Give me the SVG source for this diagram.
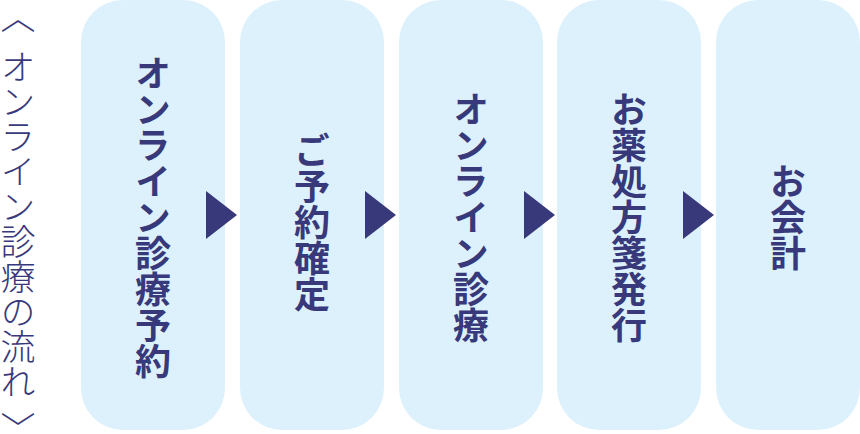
<svg xmlns="http://www.w3.org/2000/svg" width="860" height="434" viewBox="0 0 860 434">
<style>
.box{fill:#dcf1fc}
.lbl{font-family:"Noto Sans CJK JP","Noto Sans",sans-serif;font-weight:700;font-size:36px;fill:#38397a;writing-mode:vertical-rl;text-anchor:middle}
.ttl{font-family:"Noto Sans CJK JP","Noto Sans",sans-serif;font-weight:300;font-size:35px;fill:#38397a;writing-mode:vertical-rl;text-anchor:start}
.arr{fill:#38397a}
</style>
<text class="ttl" x="18" y="14" dy="-15 15 0 0 0 0 0 0 0 0 0 12">〈オンライン診療の流れ〉</text>
<g id="n1"><rect class="box" x="81" y="0" width="144" height="430" rx="42"/><text class="lbl" x="153" y="217">オンライン診療予約</text></g>
<g id="n2"><rect class="box" x="240" y="0" width="144" height="430" rx="42"/><text class="lbl" x="312" y="222">ご予約確定</text></g>
<g id="n3"><rect class="box" x="399" y="0" width="144" height="430" rx="42"/><text class="lbl" x="471" y="217">オンライン診療</text></g>
<g id="n4"><rect class="box" x="557" y="0" width="144" height="430" rx="42"/><text class="lbl" x="629" y="217">お薬処方箋発行</text></g>
<g id="n5"><rect class="box" x="716" y="0" width="144" height="430" rx="42"/><text class="lbl" x="788" y="217">お会計</text></g>
<g id="connectors">
<polygon class="arr" points="206,191 237,215 206,239"/>
<polygon class="arr" points="365,191 396,215 365,239"/>
<polygon class="arr" points="524,191 555,215 524,239"/>
<polygon class="arr" points="683,191 714,215 683,239"/>
</g>
</svg>
